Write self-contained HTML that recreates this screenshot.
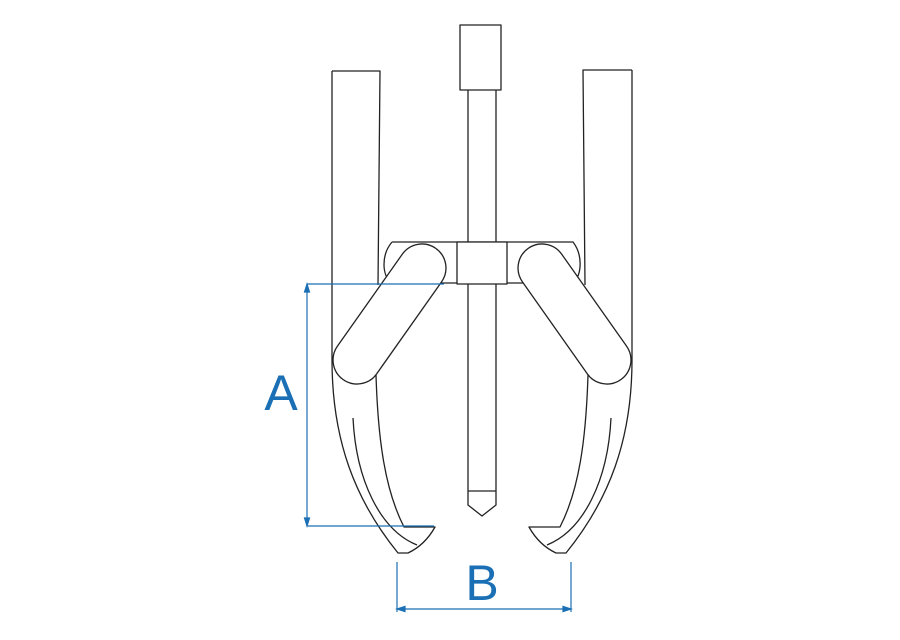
<!DOCTYPE html>
<html><head><meta charset="utf-8"><style>body{margin:0;background:#fff}svg{display:block}</style></head><body>
<svg width="900" height="640" viewBox="0 0 900 640" xmlns="http://www.w3.org/2000/svg">
<g fill="none" stroke="#222" stroke-width="1.3" stroke-linejoin="round">
<rect x="460" y="25" width="41" height="65" fill="#fff"/>
<path d="M468 90 V491 M496 90 V491 M468 491 H496 M468 491 V505 L482 516 L496 505 V491"/>
<path d="M332 71 H380 L378 285 M332 71 V360 C332 440 355 500 398 553 H408 Q425 545 435 527 H404 C385 490 378 440 376 375"/>
<path d="M353 418 C356 480 380 530 417 545"/>
<path d="M632 70 H583 L585 285 M632 70 V360 C632 440 609 500 566 553 H556 Q539 545 529 527 H560 C579 490 586 440 588 375"/>
<path d="M611 418 C608 480 584 530 547 545"/>
<path d="M392 242 H573 C583 255 582 275 573 283 M392 242 C381 255 382 275 391 283 M391 283 H457 M507 283 H573" />
<rect x="457" y="242" width="50" height="42" fill="#fff"/>
<rect x="365.5" y="233.7" width="48" height="160.6" rx="24" transform="rotate(35.2 389.5 314)" fill="#fff"/>
<rect x="550.5" y="233.7" width="48" height="160.6" rx="24" transform="rotate(-35.2 574.5 314)" fill="#fff"/>
</g>
<g stroke="#1a6fb5" stroke-width="1.2" fill="#1a6fb5">
<path d="M307 284 H444 M307 526 H434 M307 287 V523" fill="none"/>
<path d="M307 284 L304.5 292 H309.5Z M307 526 L304.5 518 H309.5Z"/>
<path d="M397 562 V612 M571 562 V612 M400 609 H568" fill="none"/>
<path d="M397 609 L405 606.5 V611.5Z M571 609 L563 606.5 V611.5Z"/>
</g>
<text x="281" y="410" font-family="Liberation Sans, sans-serif" font-size="50" fill="#1a6fb5" text-anchor="middle">A</text>
<text x="482" y="600" font-family="Liberation Sans, sans-serif" font-size="50" fill="#1a6fb5" text-anchor="middle">B</text>
</svg>
</body></html>
